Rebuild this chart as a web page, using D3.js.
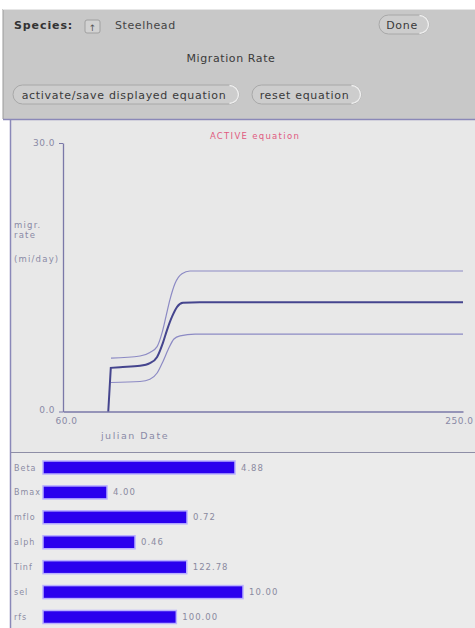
<!DOCTYPE html>
<html><head><meta charset="utf-8">
<script src="https://cdn.jsdelivr.net/npm/d3@7"></script>
<style>
html,body{margin:0;padding:0;background:#fff;}
svg{display:block;font-family:"DejaVu Sans",sans-serif;}
</style></head>
<body>
<svg id="c" width="475" height="628"></svg>
<script>
// ---- data ----
const speciesName = "Steelhead";
const panelTitle = "Migration Rate";
const statusText = "ACTIVE equation";
const xDomain = [60, 250];
const yDomain = [0, 30];
const xTicks = [60, 250];
const yTicks = [0, 30];
const yLabelLines = ["migr.", "rate", "(mi/day)"];
const xLabel = "julian Date";

const midDays  = [81.5, 82.7, 87.1, 96.6, 101.3, 104.7, 107.5, 109.4, 111.8, 114.2, 117.0, 125.0, 250.0];
const midRate  = [0.0,  4.88, 4.95, 5.1,  5.4,   6.1,   7.7,   9.1,   10.6,  11.7,  12.15, 12.2,  12.2];
const upDays   = [82.8, 96.6, 101.3, 104.7, 107.0, 108.9, 110.8, 113.2, 116.5, 120.3, 250.0];
const upRate   = [5.96, 6.2,  6.6,   7.25,  8.75,  10.6,  12.5,  14.3,  15.4,  15.7,  15.7];
const loDays   = [82.8, 96.6, 101.3, 104.7, 107.5, 109.9, 112.7, 115.6, 122.7, 250.0];
const loRate   = [3.24, 3.35, 3.6,   4.3,   5.6,   6.9,   8.1,   8.45,  8.65,  8.65];

const paramNames  = ["Beta", "Bmax", "mflo", "alph", "Tinf", "sel", "rfs"];
const paramValues = [4.88, 4.00, 0.72, 0.46, 122.78, 10.00, 100.00];
const paramMax    = [6.1, 15, 1.2, 1.2, 205, 12, 180];

// ---- drawing ----
const svg = d3.select("#c");

// top control panel
svg.append("rect").attr("x",3).attr("y",9).attr("width",472).attr("height",110).attr("fill","#c8c8c8");
svg.append("line").attr("x1",3).attr("x2",3).attr("y1",9).attr("y2",119).attr("stroke","#9a9a9a");
svg.append("line").attr("x1",3).attr("x2",475).attr("y1",9.5).attr("y2",9.5).attr("stroke","#e6e6e6");

svg.append("text").attr("x",14).attr("y",29).attr("font-size",11).attr("font-weight","bold")
  .attr("letter-spacing",0.9).attr("fill","#333").text("Species:");
// dropdown
svg.append("rect").attr("x",85).attr("y",20).attr("width",15).attr("height",13).attr("fill","#d2d2d2")
  .attr("stroke","#a0a0a0").attr("rx",2);
svg.append("text").attr("x",92.5).attr("y",31).attr("text-anchor","middle").attr("font-size",9).attr("fill","#555").text("↑");
svg.append("text").attr("x",115).attr("y",29).attr("font-size",11).attr("letter-spacing",0.6)
  .attr("fill","#444").text(speciesName);

function button(x,y,w,h,label){
  const g = svg.append("g");
  g.append("rect").attr("x",x).attr("y",y).attr("width",w).attr("height",h).attr("rx",h/2)
   .attr("fill","#cdcdcd").attr("stroke","#a8a8a8");
  g.append("path").attr("d",`M${x+w-h/2},${y+h-0.5} a${h/2-0.5},${h/2-0.5} 0 0 0 0,${-(h-1)}`)
   .attr("fill","none").attr("stroke","#eeeeee").attr("stroke-width",1.4);
  g.append("text").attr("x",x+w/2-2).attr("y",y+h/2+4).attr("text-anchor","middle")
   .attr("font-size",11).attr("letter-spacing",0.7).attr("fill","#3a3a3a").text(label);
}
button(379,15,50,19,"Done");
svg.append("text").attr("x",231).attr("y",62).attr("text-anchor","middle").attr("font-size",11)
  .attr("letter-spacing",0.6).attr("fill","#3a3a3a").text(panelTitle);
button(13,85,226,19,"activate/save displayed equation");
button(252,85,109,19,"reset equation");

// graph panel
svg.append("rect").attr("x",10).attr("y",119).attr("width",465).attr("height",333).attr("fill","#e8e8e8");
svg.append("line").attr("x1",3).attr("x2",475).attr("y1",119.5).attr("y2",119.5).attr("stroke","#8a88b8").attr("stroke-width",1.5);
// bar panel
svg.append("rect").attr("x",10).attr("y",452).attr("width",465).attr("height",176).attr("fill","#ebebeb");
svg.append("line").attr("x1",10).attr("x2",475).attr("y1",452.5).attr("y2",452.5).attr("stroke","#8e8ea6").attr("stroke-width",1.2);
svg.append("line").attr("x1",10.5).attr("x2",10.5).attr("y1",119).attr("y2",628).attr("stroke","#8a88b8").attr("stroke-width",1.5);

const x = d3.scaleLinear().domain(xDomain).range([63, 463]);
const y = d3.scaleLinear().domain(yDomain).range([411.5, 143]);
const axisColor = "#7a78a8";
const tickTextColor = "#8a8aa6";

const yAx = svg.append("g").attr("transform","translate(63,0)")
  .call(d3.axisLeft(y).tickValues(yTicks).tickFormat(d3.format(".1f")).tickSize(4).tickPadding(4).tickSizeOuter(0));
const xAx = svg.append("g").attr("transform","translate(0,411.5)")
  .call(d3.axisBottom(x).tickValues(xTicks).tickFormat(d3.format(".1f")).tickSize(0).tickPadding(6).tickSizeOuter(0));
[yAx, xAx].forEach(a=>{
  a.select(".domain").attr("stroke",axisColor).attr("stroke-width",1.3);
  a.selectAll(".tick line").attr("stroke",axisColor);
  a.selectAll("text").attr("fill",tickTextColor).attr("font-size",9).attr("letter-spacing",0.5)
   .attr("font-family","DejaVu Sans, sans-serif");
});
yAx.selectAll(".tick text").filter(d=>d===0).attr("dy","0.1em");
xAx.selectAll(".tick text").filter(d=>d===60).attr("dx","3");
xAx.selectAll(".tick text").filter(d=>d===250).attr("text-anchor","end").attr("dx","10");

svg.append("text").attr("x",135).attr("y",439).attr("text-anchor","middle").attr("font-size",9.5)
  .attr("letter-spacing",1.5).attr("fill",tickTextColor).text(xLabel);
yLabelLines.forEach((t,i)=>{
  svg.append("text").attr("x",14).attr("y",[228,238,262][i]).attr("font-size",8.5)
    .attr("letter-spacing",1.2).attr("fill",tickTextColor).text(t);
});
svg.append("text").attr("x",255).attr("y",139).attr("text-anchor","middle").attr("font-size",8.5)
  .attr("fill","#e05a80").attr("letter-spacing",1.3).text(statusText);

const line = d3.line().x(d=>x(d[0])).y(d=>y(d[1])).curve(d3.curveMonotoneX);
const zip = (a,b)=>a.map((v,i)=>[v,b[i]]);
svg.append("path").datum(zip(upDays,upRate)).attr("d",line).attr("fill","none")
  .attr("stroke","#8c8ac4").attr("stroke-width",1.2);
svg.append("path").datum(zip(loDays,loRate)).attr("d",line).attr("fill","none")
  .attr("stroke","#8c8ac4").attr("stroke-width",1.2);
const midPts = zip(midDays,midRate);
svg.append("path")
  .attr("d", d3.line().x(d=>x(d[0])).y(d=>y(d[1]))(midPts.slice(0,2)) + line(midPts.slice(1)).replace(/^M/,"L"))
  .attr("fill","none").attr("stroke","#45458e").attr("stroke-width",2);

// parameter bars
const rowY = d3.scalePoint().domain(paramNames).range([467.5, 617]);
const barX0 = 43, barW = 240;
const g = svg.append("g");
paramNames.forEach((name,i)=>{
  const w = d3.scaleLinear().domain([0, paramMax[i]]).range([0, barW]);
  const cy = rowY(name);
  g.append("text").attr("x",14).attr("y",cy+3).attr("font-size",8).attr("letter-spacing",1)
    .attr("fill","#8c8ca4").text(name);
  g.append("rect").attr("x",barX0).attr("y",cy-6.5).attr("width",w(paramValues[i])).attr("height",13)
    .attr("fill","#2a00ee").attr("stroke","#b9b0ff").attr("stroke-width",1.5);
  g.append("text").attr("x",barX0+w(paramValues[i])+6).attr("y",cy+3).attr("font-size",8.5)
    .attr("letter-spacing",1).attr("fill","#8a8aa0").text(paramValues[i].toFixed(2));
});
</script>
</body></html>
